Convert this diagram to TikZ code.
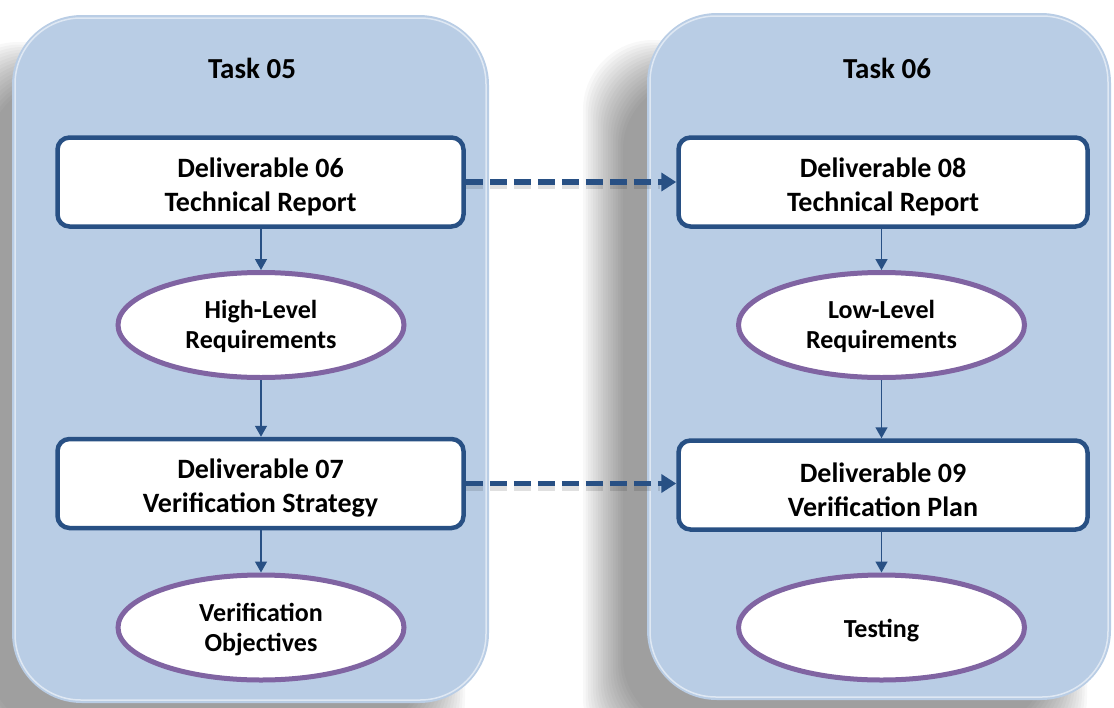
\documentclass[tikz,border=0pt]{standalone}
\usepackage{fontspec}
\setmainfont{Carlito}
\usetikzlibrary{arrows.meta,shapes.geometric}

\definecolor{panelfill}{RGB}{185,205,229}
\definecolor{boxblue}{RGB}{40,80,132}
\definecolor{ovalpurple}{RGB}{128,100,162}

% extra room above the first line of a label, so the text sits a little lower
\newcommand\lowerlabel[1]{\rule{0pt}{#1}}

\tikzset{
  panel/.style={fill=panelfill, rounded corners=70pt},
  panelrim/.style={draw=white, draw opacity=0.55, line width=1.5pt, rounded corners=66pt},
  delivbox/.style={draw=boxblue, line width=4.5pt, fill=white, rounded corners=12pt,
    minimum width=406pt, minimum height=89pt, inner sep=0pt, align=center,
    font=\fontsize{28}{34}\selectfont\bfseries},
  reqoval/.style={ellipse, draw=ovalpurple, line width=5pt, fill=white,
    minimum width=286pt, minimum height=105pt, inner sep=0pt, align=center,
    font=\fontsize{26}{30}\selectfont\bfseries},
  tasktitle/.style={font=\fontsize{29}{34}\selectfont\bfseries},
  flow/.style={draw=boxblue, line width=1.5pt, -{Triangle[width=12pt,length=11pt]}},
  handoff/.style={draw=boxblue, line width=5.5pt, dash pattern=on 17pt off 7pt,
    -{Triangle[width=18pt,length=15pt]}},
  handoffshade/.style={draw=black, draw opacity=0.12, line width=8pt,
    dash pattern=on 17pt off 7pt},
}

\begin{document}
\begin{tikzpicture}[x=1pt, y=-1pt]
\useasboundingbox (0,0) rectangle (1114,707);

% soft drop shadows of the two task panels
\foreach \d in {-20,-17.5,...,20} {
  \fill[black, opacity=0.026, rounded corners=70pt]
    ({12-44-(\d)},{62-(\d)}) rectangle ({489-44+(\d)},{750+(\d)});
  \fill[black, opacity=0.026, rounded corners=70pt]
    ({647-44-(\d)},{60-(\d)}) rectangle ({1111-44+(\d)},{748+(\d)});
}

% task panels
\fill[panel] (12,15) rectangle (489,703);
\draw[panelrim] (15,18) rectangle (486,700);
\fill[panel] (647,13) rectangle (1111,700);
\draw[panelrim] (650,16) rectangle (1108,697);

% titles
\node[tasktitle] (t05) at (252,68) {Task 05};
\node[tasktitle] (t06) at (887,68) {Task 06};

% Task 05 column
\node[delivbox] (d06) at (260.5,182) {\lowerlabel{29pt}Deliverable 06\\Technical Report};
\node[reqoval]  (hlr) at (261,325) {\lowerlabel{22pt}High-Level\\Requirements};
\node[delivbox] (d07) at (260.5,483.5) {\lowerlabel{29pt}Deliverable 07\\Verification Strategy};
\node[reqoval]  (vob) at (261,627.5) {\lowerlabel{22pt}Verification\\Objectives};

% Task 06 column
\node[delivbox, minimum width=409pt] (d08) at (883,182) {\lowerlabel{29pt}Deliverable 08\\Technical Report};
\node[reqoval]  (llr) at (881.5,325) {\lowerlabel{22pt}Low-Level\\Requirements};
\node[delivbox, minimum width=409pt] (d09) at (883,485) {\lowerlabel{29pt}Deliverable 09\\Verification Plan};
\node[reqoval]  (tst) at (881.5,627.5) {\lowerlabel{25pt}Testing};

% flow inside each task
\draw[flow] (d06.south -| hlr.north) -- (hlr.north);
\draw[flow] (hlr.south) -- (d07.north -| hlr.south);
\draw[flow] (d07.south -| vob.north) -- (vob.north);
\draw[flow] (d08.south -| llr.north) -- (llr.north);
\draw[flow] (llr.south) -- (d09.north -| llr.south);
\draw[flow] (d09.south -| tst.north) -- (tst.north);

% hand-over between the tasks
\draw[handoffshade] ([yshift=-3pt]d06.east) -- ([xshift=-16pt,yshift=-3pt]d08.west);
\draw[handoffshade] ([yshift=-3pt]d07.east) -- ([xshift=-16pt,yshift=-3pt]d07.east -| d09.west);
\draw[handoff] (d06.east) -- (d08.west);
\draw[handoff] (d07.east) -- (d07.east -| d09.west);
\end{tikzpicture}
\end{document}
